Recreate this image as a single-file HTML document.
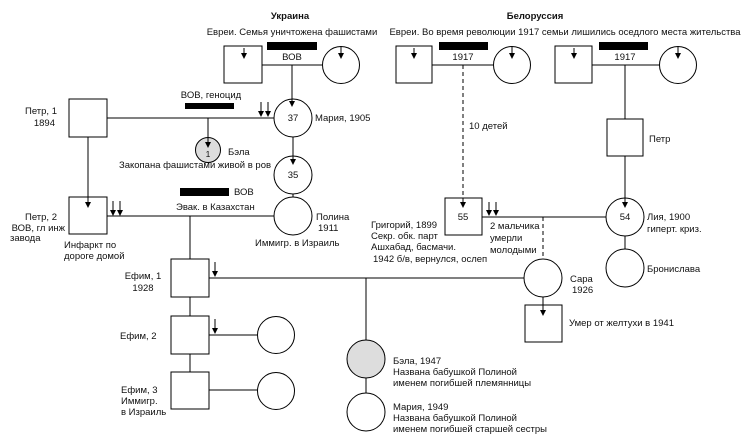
<!DOCTYPE html>
<html><head><meta charset="utf-8"><style>
html,body{margin:0;padding:0;background:#fff;}
svg{display:block;}
text{font-family:"Liberation Sans",Arial,sans-serif;font-size:9.5px;fill:#111;}
.b{font-weight:bold;}
</style></head><body>
<svg width="741" height="440" viewBox="0 0 741 440" xmlns="http://www.w3.org/2000/svg">
<defs>
<marker id="a" markerWidth="6" markerHeight="6" refX="5" refY="3" orient="auto" markerUnits="userSpaceOnUse"><path d="M0,0 L6,3 L0,6 z" fill="#000"/></marker>
</defs>
<g stroke="#000" stroke-width="1" fill="none">
<!-- connecting lines first -->
<line x1="262" y1="65" x2="322" y2="65"/>
<line x1="432" y1="65" x2="493" y2="65"/>
<line x1="592" y1="65" x2="659" y2="65"/>
<line x1="625" y1="65" x2="625" y2="119"/>
<line x1="107" y1="118" x2="274" y2="118"/>
<line x1="293" y1="194" x2="293" y2="197"/>
<line x1="107" y1="216" x2="274" y2="216"/>
<line x1="190" y1="216" x2="190" y2="259"/>
<line x1="209" y1="278" x2="524" y2="278"/>
<line x1="190" y1="297" x2="190" y2="316"/>
<line x1="209" y1="335" x2="257" y2="335"/>
<line x1="190" y1="354" x2="190" y2="372"/>
<line x1="209" y1="390" x2="257" y2="390"/>
<line x1="366" y1="278" x2="366" y2="340"/>
<line x1="366" y1="378" x2="366" y2="393"/>
<line x1="482" y1="217" x2="606" y2="217"/>
<line x1="625" y1="236" x2="625" y2="249"/>
<line x1="543" y1="217" x2="543" y2="259" stroke-dasharray="4,3"/>
<!-- shapes -->
<rect x="224" y="46" width="38" height="37" fill="#fff"/>
<circle cx="341" cy="65" r="18.5" fill="#fff"/>
<rect x="396" y="46" width="36" height="37" fill="#fff"/>
<circle cx="512" cy="65" r="18.5" fill="#fff"/>
<rect x="555" y="46" width="37" height="37" fill="#fff"/>
<circle cx="678" cy="65" r="18.5" fill="#fff"/>
<rect x="607" y="119" width="36" height="37" fill="#fff"/>
<circle cx="293" cy="118" r="19" fill="#fff"/>
<rect x="69" y="99" width="38" height="38" fill="#fff"/>
<circle cx="208" cy="150" r="12.5" fill="#ddd"/>
<circle cx="293" cy="175" r="19" fill="#fff"/>
<circle cx="293" cy="216" r="19" fill="#fff"/>
<rect x="69" y="197" width="38" height="37" fill="#fff"/>
<rect x="171" y="259" width="38" height="38" fill="#fff"/>
<rect x="171" y="316" width="38" height="38" fill="#fff"/>
<circle cx="276" cy="335" r="18.5" fill="#fff"/>
<rect x="171" y="372" width="38" height="37" fill="#fff"/>
<circle cx="276" cy="391" r="18.5" fill="#fff"/>
<circle cx="366" cy="359" r="19" fill="#ddd"/>
<circle cx="366" cy="412" r="19" fill="#fff"/>
<rect x="445" y="198" width="37" height="37" fill="#fff"/>
<circle cx="625" cy="217" r="19" fill="#fff"/>
<circle cx="625" cy="268" r="19" fill="#fff"/>
<circle cx="543" cy="278" r="19" fill="#fff"/>
<rect x="525" y="305" width="37" height="37" fill="#fff"/>
<!-- arrows on top -->
<line x1="292" y1="65" x2="292" y2="106" marker-end="url(#a)"/>
<line x1="244" y1="48" x2="244" y2="58" marker-end="url(#a)"/>
<line x1="341" y1="47" x2="341" y2="58" marker-end="url(#a)"/>
<line x1="414" y1="48" x2="414" y2="58" marker-end="url(#a)"/>
<line x1="512" y1="47" x2="512" y2="58" marker-end="url(#a)"/>
<line x1="463" y1="65" x2="463" y2="207" stroke-dasharray="4,3" marker-end="url(#a)"/>
<line x1="574" y1="48" x2="574" y2="58" marker-end="url(#a)"/>
<line x1="678" y1="47" x2="678" y2="58" marker-end="url(#a)"/>
<line x1="625" y1="156" x2="625" y2="207" marker-end="url(#a)"/>
<line x1="261" y1="102" x2="261" y2="116" marker-end="url(#a)"/>
<line x1="268" y1="102" x2="268" y2="116" marker-end="url(#a)"/>
<line x1="208" y1="118" x2="208" y2="147" marker-end="url(#a)"/>
<line x1="293" y1="137" x2="293" y2="164" marker-end="url(#a)"/>
<line x1="88" y1="137" x2="88" y2="207" marker-end="url(#a)"/>
<line x1="113" y1="201" x2="113" y2="215" marker-end="url(#a)"/>
<line x1="120" y1="201" x2="120" y2="215" marker-end="url(#a)"/>
<line x1="215" y1="262" x2="215" y2="276" marker-end="url(#a)"/>
<line x1="215" y1="319" x2="215" y2="333" marker-end="url(#a)"/>
<line x1="489" y1="202" x2="489" y2="215" marker-end="url(#a)"/>
<line x1="496" y1="202" x2="496" y2="215" marker-end="url(#a)"/>
<line x1="543" y1="297" x2="543" y2="315" marker-end="url(#a)"/>
</g>
<!-- bars -->
<g fill="#000">
<rect x="267" y="42" width="50" height="8"/>
<rect x="439" y="42" width="49" height="8"/>
<rect x="599" y="42" width="49" height="8"/>
<rect x="185" y="103" width="49" height="6"/>
<rect x="180" y="188" width="49" height="8"/>
</g>
<!-- text -->
<text class="b" x="290" y="19" text-anchor="middle">Украина</text>
<text x="292" y="35" text-anchor="middle">Евреи. Семья уничтожена фашистами</text>
<text x="292" y="60" text-anchor="middle">ВОВ</text>
<text class="b" x="535" y="19" text-anchor="middle">Белоруссия</text>
<text x="565" y="35" text-anchor="middle">Евреи. Во время революции 1917 семьи лишились оседлого места жительства</text>
<text x="463" y="60" text-anchor="middle">1917</text>
<text x="625" y="60" text-anchor="middle">1917</text>
<text x="469" y="129">10 детей</text>
<text x="649" y="142">Петр</text>
<text x="57" y="114" text-anchor="end">Петр, 1</text>
<text x="55" y="126" text-anchor="end">1894</text>
<text x="211" y="98" text-anchor="middle">ВОВ, геноцид</text>
<text x="293" y="121" text-anchor="middle">37</text>
<text x="315" y="121">Мария, 1905</text>
<text x="208" y="157" text-anchor="middle" style="font-size:8.5px">1</text>
<text x="228" y="155">Бэла</text>
<text x="195" y="168" text-anchor="middle">Закопана фашистами живой в ров</text>
<text x="293" y="178" text-anchor="middle">35</text>
<text x="234" y="195">ВОВ</text>
<text x="176" y="210">Эвак. в Казахстан</text>
<text x="57" y="220" text-anchor="end">Петр, 2</text>
<text x="65" y="231" text-anchor="end">ВОВ, гл инж</text>
<text x="10" y="241">завода</text>
<text x="64" y="248">Инфаркт по</text>
<text x="64" y="259">дороге домой</text>
<text x="316" y="220">Полина</text>
<text x="318" y="231">1911</text>
<text x="255" y="246">Иммигр. в Израиль</text>
<text x="371" y="228">Григорий, 1899</text>
<text x="371" y="239">Секр. обк. парт</text>
<text x="371" y="250">Ашхабад, басмачи.</text>
<text x="373" y="262">1942 б/в, вернулся, ослеп</text>
<text x="463" y="220" text-anchor="middle">55</text>
<text x="490" y="229">2 мальчика</text>
<text x="490" y="241">умерли</text>
<text x="490" y="253">молодыми</text>
<text x="625" y="220" text-anchor="middle">54</text>
<text x="647" y="220">Лия, 1900</text>
<text x="647" y="232">гиперт. криз.</text>
<text x="647" y="272">Бронислава</text>
<text x="570" y="282">Сара</text>
<text x="572" y="293">1926</text>
<text x="569" y="326">Умер от желтухи в 1941</text>
<text x="143" y="279" text-anchor="middle">Ефим, 1</text>
<text x="143" y="291" text-anchor="middle">1928</text>
<text x="120" y="339">Ефим, 2</text>
<text x="121" y="393">Ефим, 3</text>
<text x="121" y="404">Иммигр.</text>
<text x="121" y="415">в Израиль</text>
<text x="393" y="364">Бэла, 1947</text>
<text x="393" y="375">Названа бабушкой Полиной</text>
<text x="393" y="386">именем погибшей племянницы</text>
<text x="393" y="410">Мария, 1949</text>
<text x="393" y="421">Названа бабушкой Полиной</text>
<text x="393" y="432">именем погибшей старшей сестры</text>
</svg>
</body></html>
